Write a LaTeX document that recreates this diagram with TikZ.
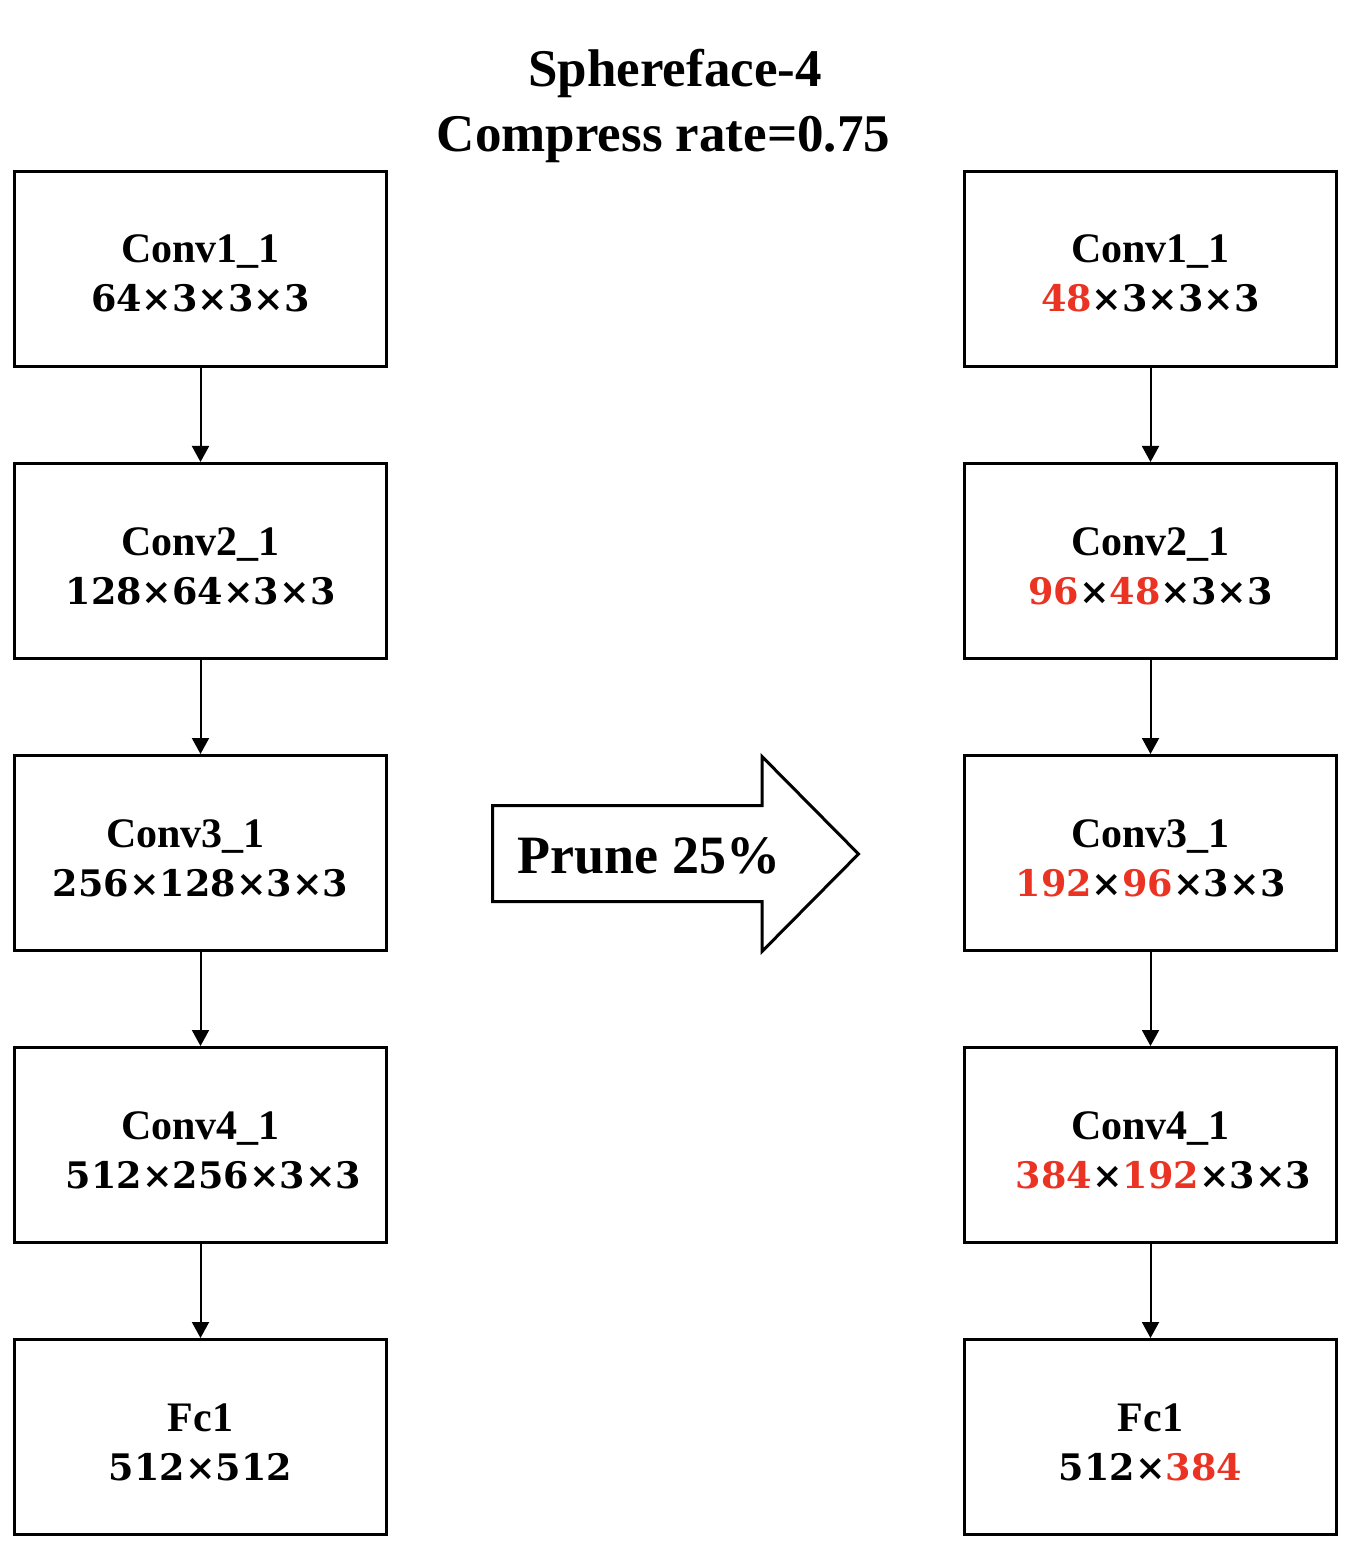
\documentclass[tikz,border=0pt]{standalone}
\usepackage{fontspec}
\setmainfont{Liberation Serif}
\newfontfamily\numfont[Scale=0.87]{DejaVu Serif}
\usetikzlibrary{positioning,arrows.meta}
\definecolor{prunered}{RGB}{234,51,35}
\newcommand{\pr}[1]{\textcolor{prunered}{#1}}

\begin{document}
\begin{tikzpicture}[
  x=0.5pt, y=-0.5pt,
  node distance=47pt and 287.5pt,
  layer/.style={draw, rectangle, line width=1.5pt, minimum width=186pt, minimum height=97.5pt, inner sep=0pt, align=center, font=\fontsize{21}{24.5}\selectfont\bfseries, text height=43pt, text depth=0pt},
  flow/.style={-{Triangle[length=8pt,width=8.5pt]}, line width=1pt},
  heading/.style={anchor=base, font=\fontsize{26.5}{32}\selectfont\bfseries},
]
\useasboundingbox (0,0) rectangle (1346,1550);

\node[heading] (title) at (675,87) {Sphereface-4};
\node[heading] (rate) at (663.5,152) {Compress rate=0.75};

% original network
\node[layer] (conv1) at (200.5,269) {Conv1\_1\\{\numfont 64×3×3×3}};
\node[layer, below=of conv1] (conv2) {Conv2\_1\\{\numfont 128×64×3×3}};
\node[layer, below=of conv2] (conv3) {Conv3\_1\hspace*{15pt}\\{\numfont 256×128×3×3}};
\node[layer, below=of conv3] (conv4) {Conv4\_1\\{\numfont\hspace*{13pt}512×256×3×3}};
\node[layer, below=of conv4] (fc1) {Fc1\\{\numfont 512×512}};

% pruned network
\node[layer, right=of conv1] (pconv1) {Conv1\_1\\{\numfont\pr{48}×3×3×3}};
\node[layer, below=of pconv1] (pconv2) {Conv2\_1\\{\numfont\pr{96}×\pr{48}×3×3}};
\node[layer, below=of pconv2] (pconv3) {Conv3\_1\\{\numfont\pr{192}×\pr{96}×3×3}};
\node[layer, below=of pconv3] (pconv4) {Conv4\_1\\{\numfont\hspace*{13pt}\pr{384}×\pr{192}×3×3}};
\node[layer, below=of pconv4] (pfc1) {Fc1\\{\numfont 512×\pr{384}}};

\draw[flow] (conv1) -- (conv2);
\draw[flow] (conv2) -- (conv3);
\draw[flow] (conv3) -- (conv4);
\draw[flow] (conv4) -- (fc1);
\draw[flow] (pconv1) -- (pconv2);
\draw[flow] (pconv2) -- (pconv3);
\draw[flow] (pconv3) -- (pconv4);
\draw[flow] (pconv4) -- (pfc1);

% prune arrow
\draw[line width=1.5pt, line join=miter] (492.5,805.5) -- (762,805.5) -- (762,756.5) -- (858.5,854) -- (762,951.5) -- (762,901.5) -- (492.5,901.5) -- cycle;
\node[heading, font=\fontsize{27}{32}\selectfont\bfseries] (prune) at (649,873) {Prune 25\%};
\end{tikzpicture}
\end{document}
